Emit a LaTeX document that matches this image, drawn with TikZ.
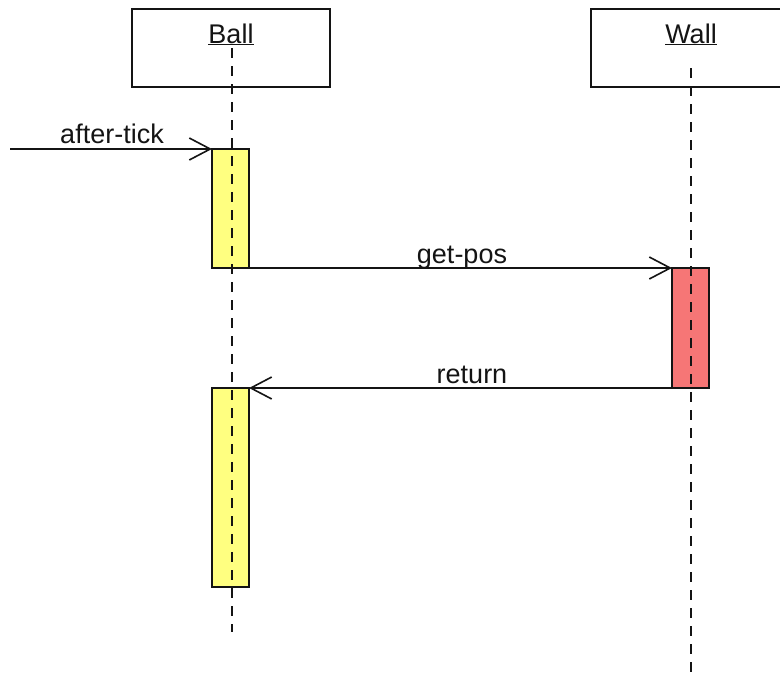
\documentclass[tikz,border=0pt]{standalone}
\usepackage{fontspec}
\setmainfont{Liberation Sans}
\usetikzlibrary{arrows.meta}
\definecolor{actyellow}{RGB}{255,255,128}
\definecolor{actred}{RGB}{246,118,118}
\definecolor{ink}{RGB}{20,20,20}
\tikzset{
  header/.style={draw=ink, line width=1.6pt, fill=white, minimum width=#1, minimum height=78pt, inner sep=0pt, outer sep=0pt, anchor=north west},
  lifeline/.style={draw=ink, line width=1.6pt, dash pattern=on 10pt off 8pt},
  activation/.style={draw=ink, line width=1.6pt, fill=#1, minimum width=37pt, inner sep=0pt, outer sep=0pt, anchor=north west},
  msg/.style={draw=ink, line width=1.5pt, -{Straight Barb[length=21pt,width=22pt,line width=1.6pt]}},
  lbl/.style={font=\fontsize{27}{29}\selectfont, text=ink, inner sep=0pt, anchor=base}
}
\newcommand{\uline}[1]{\underline{#1}}
\begin{document}
\begin{tikzpicture}[x=1pt,y=-1pt]
  \useasboundingbox (0,0) rectangle (780,673);

  % object headers
  \node[header=198pt] (ballhead) at (132,9) {};
  \node[header=200pt] (wallhead) at (591,9) {};
  \node[lbl] (balltxt) at (231,43) {\uline{Ball}};
  \node[lbl] (walltxt) at (691,43) {\uline{Wall}};

  % activation bars
  \node[activation=actyellow, minimum height=119pt] (act1) at (212,149) {};
  \node[activation=actred, minimum height=120pt] (act2) at (672,268) {};
  \node[activation=actyellow, minimum height=199pt] (act3) at (212,388) {};

  % lifelines
  \coordinate (balltop) at (232,48);
  \coordinate (ballbot) at (232,632);
  \coordinate (walltop) at (691,68);
  \coordinate (wallbot) at (691,672);
  \draw[lifeline] (balltop) -- (ballbot);
  \draw[lifeline] (walltop) -- (wallbot);

  % messages
  \coordinate (src) at (10,149);
  \draw[msg] (src) -- (act1.north west);
  \node[lbl] at (112,143) {after-tick};

  \draw[msg] (act1.south east) -- (act2.north west);
  \node[lbl] at (462,263) {get-pos};

  \draw[msg] (act2.south west) -- (act3.north east);
  \node[lbl] at (472,383) {return};
\end{tikzpicture}
\end{document}
